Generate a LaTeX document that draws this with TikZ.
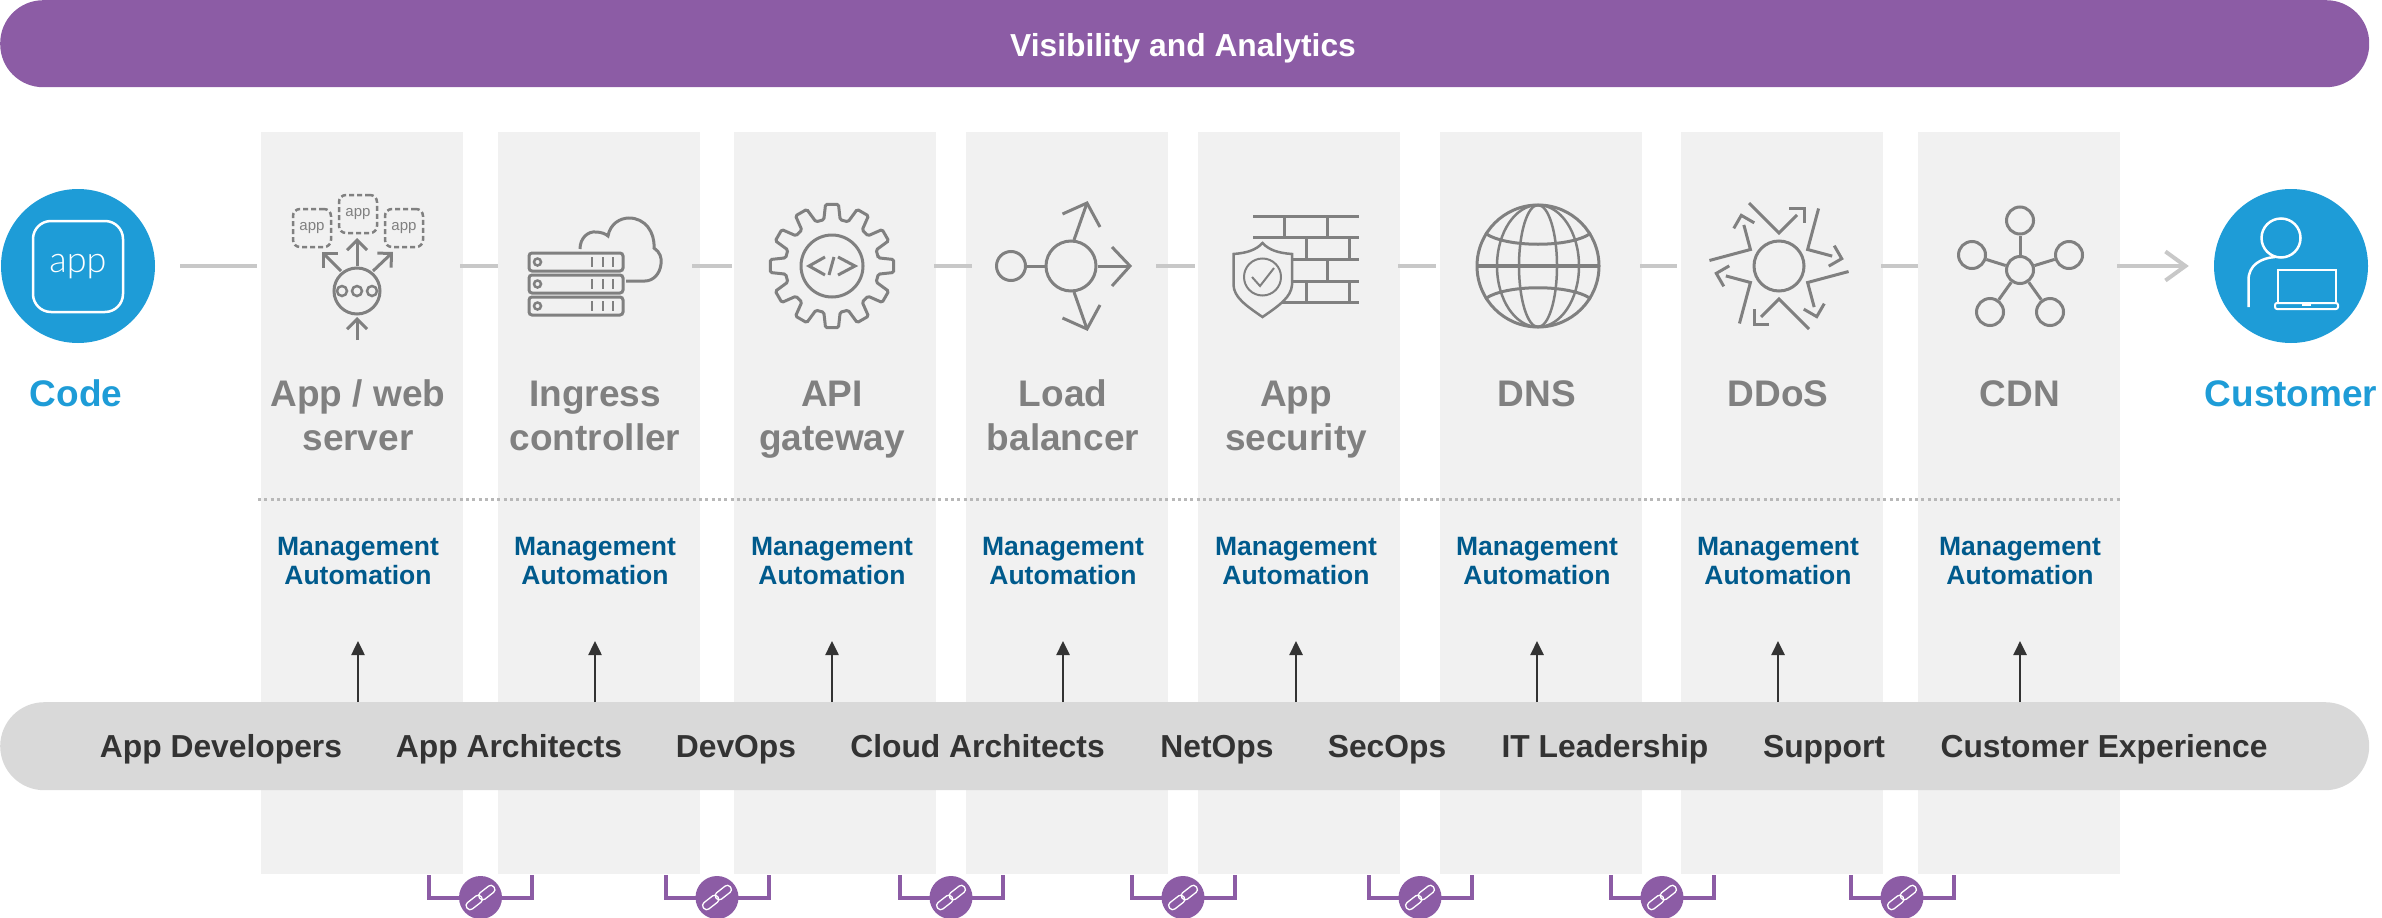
\documentclass[tikz,border=0pt]{standalone}
\usepackage{fontspec}
\setmainfont{Liberation Sans}
\newfontfamily\lightfont{Lato Light}
\usetikzlibrary{positioning, arrows.meta}
\definecolor{panelgray}{HTML}{F1F1F1}
\definecolor{bargray}{HTML}{D9D9D9}
\definecolor{flowgray}{HTML}{C8C8C8}
\definecolor{icongray}{HTML}{808080}
\definecolor{dotgray}{HTML}{B8B8B8}
\definecolor{brandblue}{HTML}{1E9CD7}
\definecolor{brandpurple}{HTML}{8C5CA5}
\definecolor{autoblue}{HTML}{005A8C}
\definecolor{teamdark}{HTML}{333333}
\tikzstyle{panelbox} = [rectangle, fill=panelgray, anchor=north west, inner sep=0pt, minimum width=201.8pt, minimum height=742pt]
\tikzstyle{bannerbox} = [rectangle, fill=brandpurple, rounded corners=43pt, anchor=north west, inner sep=0pt, minimum width=2369pt, minimum height=87pt]
\tikzstyle{teambox} = [rectangle, fill=bargray, rounded corners=44pt, anchor=north west, inner sep=0pt, minimum width=2369pt, minimum height=88pt]
\tikzstyle{endcircle} = [circle, fill=brandblue, inner sep=0pt, minimum size=154pt]
\tikzstyle{titletext} = [font=\bfseries\fontsize{37}{44.5}\selectfont, text=icongray, align=center, anchor=north, inner sep=0pt]
\tikzstyle{mgmttext} = [font=\bfseries\fontsize{26.5}{29}\selectfont, text=autoblue, align=center]
\tikzstyle{teamtext} = [font=\bfseries\fontsize{31.8}{36}\selectfont, text=teamdark, anchor=base]
\tikzstyle{flowline} = [draw=flowgray, line width=4pt]
\tikzstyle{uparrow} = [draw=teamdark, line width=2.5pt, -{Triangle[length=14pt,width=13pt]}]
\tikzstyle{iconline} = [draw=icongray, line width=3pt]
\tikzstyle{barbline} = [iconline, -{Straight Barb[length=10pt,width=20pt]}]
\tikzstyle{dashbox} = [draw=icongray, line width=2.5pt, dash pattern=on 5pt off 3pt, rounded corners=7pt, minimum size=38pt, inner sep=0pt, text=icongray, font=\fontsize{15}{15}\selectfont]
\tikzstyle{ringnode} = [circle, draw=icongray, line width=3pt, inner sep=0pt]
\tikzstyle{whiteline} = [draw=white, line width=2.5pt]
\tikzstyle{linkline} = [draw=brandpurple, line width=4pt]
\tikzstyle{linkdot} = [circle, fill=brandpurple, inner sep=0pt, minimum size=43pt]
\begin{document}
\begin{tikzpicture}[x=1pt, y=-1pt]
  \useasboundingbox (0,0) rectangle (2382,918);
  % columns
  \foreach \x [count=\i] in {261,498,734,966,1198,1440,1681,1918}
    \node[panelbox] (col\i) at (\x,132) {};
  \node[bannerbox] (banner) at (0,0) {};
  \node[font=\bfseries\fontsize{31.8}{36}\selectfont, text=white, anchor=base] (bannertext) at (1183,56) {Visibility and Analytics};
  \node[endcircle] (code) at (78,266) {};
  \node[endcircle] (customer) at (2291,266) {};
  \node[titletext, text=brandblue] (codetext) at (76,376) {\rule{0pt}{30pt}Code};
  \node[titletext, text=brandblue] (customertext) at (2291,376) {\rule{0pt}{30pt}Customer};
  % flow line
  \draw[flowline, shorten <=25pt, shorten >=4pt] (code.east) -- (col1.west |- code.east);
  \foreach \i/\j/\s/\e in {1/2/-3/0,2/3/-8/2,3/4/-2/-6,4/5/-12/3,5/6/-2/4,6/7/-2/4,7/8/-2/0}
    \draw[flowline, shorten <=\s pt, shorten >=\e pt] (col\i.east |- code.east) -- (col\j.west |- code.east);
  \draw[flowline, -{Straight Barb[length=20pt,width=29pt]}, shorten <=-3pt, shorten >=25pt] (col8.east |- code.east) -- (customer.west);
  % titles and automation
  \foreach \x/\name/\title [count=\i] in {358/appweb/{App / web\\server},595/ingress/{Ingress\\controller},832/apigw/{API\\gateway},1063/loadbal/{Load\\balancer},1296/appsec/{App\\security},1537/dns/DNS,1778/ddos/DDoS,2020/cdn/CDN} {
    \node[titletext] (\name) at (\x,376) {\rule{0pt}{30pt}\title};
    \node[mgmttext] (mgmt\i) at (\x,561) {Management\\Automation};
    \coordinate (tip\i) at (\x,641);
  }
  \draw[draw=dotgray, line width=3pt, dash pattern=on 3pt off 3.3pt] (258,499) -- (col8.east |- 0,499);
  \node[teambox] (teams) at (0,702) {};
  \foreach \i in {1,...,8}
    \draw[uparrow] (teams.north -| tip\i) -- (tip\i);
  \foreach \x/\team [count=\i] in {221/App Developers,509/App Architects,736/DevOps,977.5/Cloud Architects,1217/NetOps,1387/SecOps,1605/IT Leadership,1824/Support,2104/Customer Experience}
    \node[teamtext] (team\i) at (\x,757) {\team};
  % links
  \foreach \x [count=\i] in {480.5,717,951,1183,1420,1662,1902} {
    \coordinate (linka\i) at (\x-51.5,875);
    \coordinate (linkb\i) at (\x+51.5,875);
    \coordinate (linkc\i) at (\x,897.5);
    \draw[linkline] (linka\i) |- (linkc\i) -| (linkb\i);
    \node[linkdot] (link\i) at (linkc\i) {};
    \draw[white, line width=1.3pt, shift={(link\i)}, rotate=38, rounded corners=3.5pt] (-17,-4) rectangle (1,4);
    \draw[white, line width=1.3pt, shift={(link\i)}, rotate=38, rounded corners=3.5pt] (-1,-4) rectangle (17,4);
  }
  % code icon
  \draw[whiteline, rounded corners=18pt] (33,221) rectangle (123,312);
  \node[text=white, font=\lightfont\fontsize{36}{36}\selectfont, anchor=base] (codeapp) at (78,272) {app};
  % customer icon
  \draw[whiteline] (2281,238) circle[radius=19.5pt];
  \draw[whiteline] (2248.5,307) -- (2248.5,280) .. controls (2248.5,265) and (2261,258) .. (2275,257);
  \draw[whiteline] (2278,303) -- (2278,270) -- (2336,270) -- (2336,303);
  \draw[whiteline, line width=2pt, rounded corners=2pt] (2275,303) rectangle (2338,309);
  \draw[whiteline, line width=2pt] (2302,305) -- (2311,305);
  % app / web server icon
  \node[ringnode, minimum size=46pt] (apphub) at (357,291) {};
  \foreach \dx in {-15,0,15}
    \draw[icongray, line width=2.5pt] (357+\dx,291) circle[radius=5pt];
  \node[dashbox] (appl) at (312,228) {app};
  \node[dashbox] (appm) at (358,214) {app};
  \node[dashbox] (appr) at (404,228) {app};
  \draw[barbline] (357,266) -- (357,238);
  \draw[barbline] (341,271) -- (322,252);
  \draw[barbline] (373,271) -- (393,252);
  \draw[barbline] (357,340) -- (357,317);
  % ingress icon
  \foreach \y in {253,275,297} {
    \draw[iconline, rounded corners=3pt] (529,\y) rectangle (623,\y+18);
    \draw[icongray, line width=2.5pt] (537.5,\y+9) circle[radius=3.5pt];
    \foreach \x in {592,603,613}
      \draw[iconline, line width=2.5pt] (\x,\y+4) -- (\x,\y+14);
  }
  \draw[iconline] (580,249) .. controls (580,238) and (588,231) .. (596,232) .. controls (601,232) and (606,234) .. (608,236) .. controls (610,224) and (620,218) .. (629,218) .. controls (645,218) and (655,232) .. (654,248) .. controls (660,252) and (662,258) .. (661,264) .. controls (660,274) and (653,281) .. (645,281) -- (626,281);
  % gear icon
  \draw[iconline, rounded corners=1.5pt, shift={(832,266)}] (-10:47) \foreach \a in {0,30,...,330} { -- (\a-10:47) -- (\a-6:62) -- (\a+6:62) -- (\a+10:47) } -- cycle;
  \draw[iconline] (832,266) circle[radius=31pt];
  \draw[iconline] (825,257) -- (809,266) -- (825,275);
  \draw[iconline] (838,257) -- (855,266) -- (838,275);
  \draw[iconline] (834,257) -- (829,275);
  % load balancer icon
  \node[ringnode, minimum size=29pt] (lbin) at (1011,266) {};
  \node[ringnode, minimum size=50pt] (lbhub) at (1071,266) {};
  \draw[iconline] (lbin) -- (lbhub);
  \draw[iconline] (lbhub.east) -- (1130,266);
  \draw[iconline] (1112,247) -- (1130,266) -- (1112,286);
  \draw[iconline] (1074,240) -- (1087,203);
  \draw[iconline] (1062.5,214) -- (1087,203) -- (1100,227);
  \draw[iconline] (1074,292) -- (1087,329);
  \draw[iconline] (1062.5,318) -- (1087,329) -- (1100,305);
  % firewall icon
  \foreach \y in {216,237,259,281,302}
    \draw[iconline] (1253,\y) -- (1359,\y);
  \foreach \x in {1284,1327}
    \draw[iconline] (\x,216) -- (\x,237);
  \foreach \x in {1306,1349} {
    \draw[iconline] (\x,237) -- (\x,259);
    \draw[iconline] (\x,281) -- (\x,302);
  }
  \draw[iconline] (1327,259) -- (1327,281);
  \draw[iconline, fill=panelgray, line width=2.5pt] (1262.5,243) .. controls (1256,250) and (1247,253) .. (1233.5,254) -- (1233.5,285) .. controls (1234,297) and (1245,305) .. (1262.5,317) .. controls (1280,305) and (1291,297) .. (1292,285) -- (1292,254) .. controls (1278,253) and (1269,250) .. (1262.5,243) -- cycle;
  \draw[iconline, line width=2pt] (1262.5,277) circle[radius=18.5pt];
  \draw[iconline, line width=2pt] (1252,277) -- (1260,286) -- (1274,268);
  % dns icon
  \draw[iconline] (1538,266) circle[radius=61pt];
  \draw[iconline, line width=2.5pt] (1538,266) ellipse[x radius=19pt, y radius=61pt];
  \draw[iconline, line width=2.5pt] (1538,266) ellipse[x radius=41pt, y radius=61pt];
  \draw[iconline, line width=4pt] (1477,266) -- (1599,266);
  \draw[iconline] (1485,233) .. controls (1505,248) and (1571,248) .. (1591,233);
  \draw[iconline] (1485,299) .. controls (1505,284) and (1571,284) .. (1591,299);
  % ddos icon
  \node[ringnode, minimum size=50pt] (ddoshub) at (1779,266) {};
  \foreach \a in {0,60,...,300} {
    \draw[iconline, shift={(ddoshub)}, rotate=\a] (-30,-63) -- (0,-33) -- (18,-51);
    \draw[iconline, shift={(ddoshub)}, rotate=\a] (10,-58) -- (25,-58) -- (25,-43);
  }
  % cdn icon
  \node[ringnode, minimum size=27pt] (cdnhub) at (2020,270) {};
  \foreach \x/\y/\n in {2020/220.5/t,1972/255/l,2069/255/r,1990/312/a,2050/312/b} {
    \node[ringnode, minimum size=27pt] (cdn\n) at (\x,\y) {};
    \draw[iconline] (cdnhub) -- (cdn\n);
  }
\end{tikzpicture}
\end{document}
